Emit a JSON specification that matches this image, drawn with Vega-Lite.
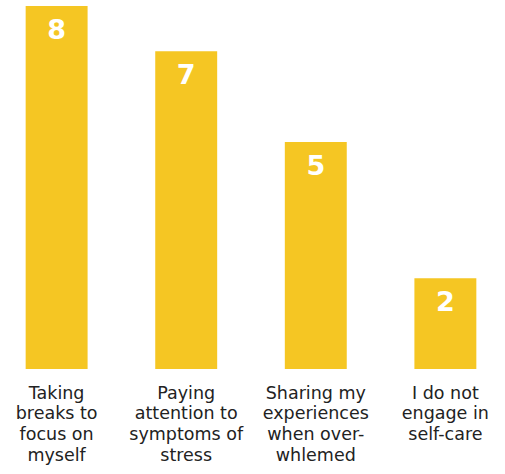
{
  "$schema": "https://vega.github.io/schema/vega-lite/v6.json",
  "width": 502,
  "height": 369,
  "autosize": "none",
  "padding": {"left": 0, "top": 0, "right": 3, "bottom": 105},
  "background": "white",
  "data": {
    "values": [
      {"label": "Taking\nbreaks to\nfocus on\nmyself", "value": 8},
      {"label": "Paying\nattention to\nsymptoms of\nstress", "value": 7},
      {"label": "Sharing my\nexperiences\nwhen over-\nwhlemed", "value": 5},
      {"label": "I do not\nengage in\nself-care", "value": 2}
    ]
  },
  "config": {"view": {"stroke": null}},
  "encoding": {
    "x": {
      "field": "label",
      "type": "nominal",
      "sort": null,
      "scale": {"paddingInner": 0.522, "paddingOuter": 0.198},
      "axis": {
        "title": null,
        "domain": false,
        "ticks": false,
        "labelAngle": 0,
        "labelExpr": "split(datum.label, '\\n')",
        "labelFont": "DejaVu Sans",
        "labelFontSize": 17.5,
        "labelLineHeight": 20.8,
        "labelColor": "#222222",
        "labelPadding": 15,
        "labelAlign": "center",
        "labelBaseline": "top"
      }
    },
    "y": {
      "field": "value",
      "type": "quantitative",
      "scale": {"domain": [0, 8.13], "nice": false},
      "axis": null
    }
  },
  "layer": [
    {"mark": {"type": "bar", "color": "#F5C623"}},
    {
      "mark": {
        "type": "text",
        "baseline": "top",
        "dy": 12,
        "color": "white",
        "font": "DejaVu Sans",
        "fontWeight": 900,
        "fontSize": 27
      },
      "encoding": {"text": {"field": "value", "type": "quantitative"}}
    }
  ]
}
